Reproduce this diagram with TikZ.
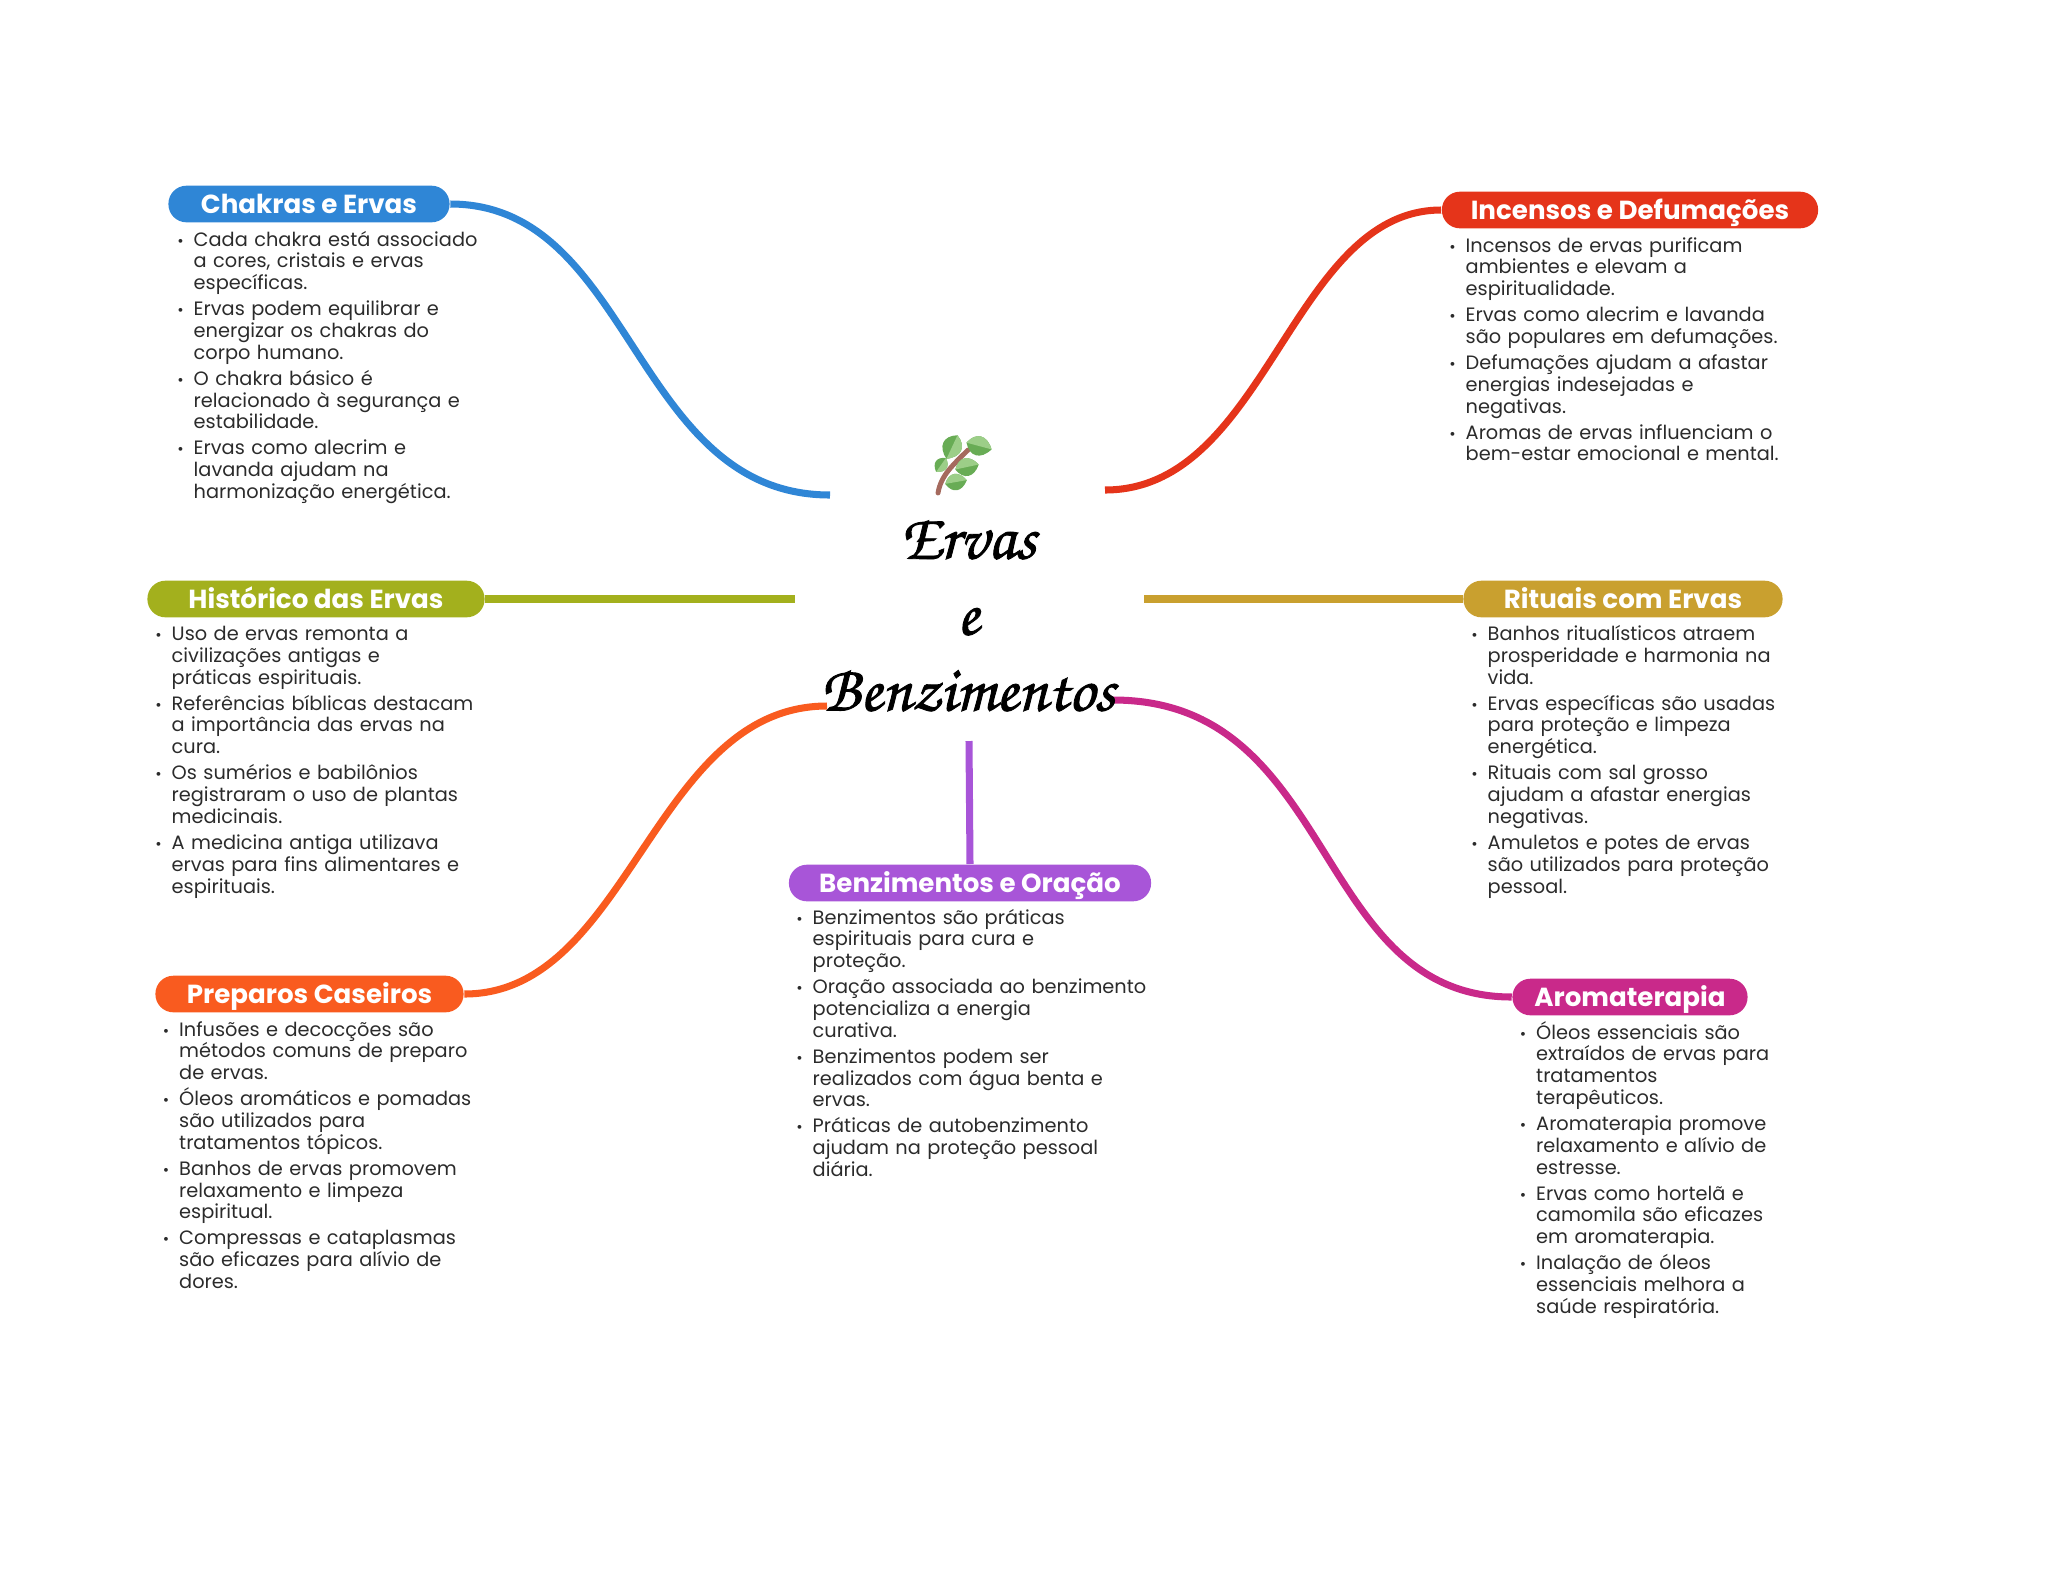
\documentclass[tikz,border=0pt]{standalone}
\usepackage{fontspec}
\setmainfont{Poppins}
\newfontfamily\hubfont[FakeBold=1.3]{TeX Gyre Chorus}
\usetikzlibrary{arrows.meta, positioning, calc}

\definecolor{chakrasblue}{HTML}{2F86D6}
\definecolor{incensosred}{HTML}{E5341A}
\definecolor{historicoolive}{HTML}{A3B01D}
\definecolor{rituaisgold}{HTML}{C9A02F}
\definecolor{preparosorange}{HTML}{F95B1F}
\definecolor{benzpurple}{HTML}{A855D8}
\definecolor{aromamagenta}{HTML}{C9298A}
\definecolor{notegray}{HTML}{2B2B2B}
\definecolor{leafdark}{HTML}{68AC55}
\definecolor{leaflight}{HTML}{9CCE88}
\definecolor{stembrown}{HTML}{A56A5E}

\newenvironment{notelist}{%
  \list{{\fontsize{4.4}{4.4}\selectfont\textbullet}}{%
    \setlength{\leftmargin}{0.15cm}\setlength{\labelwidth}{0.15cm}%
    \setlength{\labelsep}{0pt}\setlength{\itemindent}{0pt}%
    \setlength{\topsep}{0pt}\setlength{\partopsep}{0pt}%
    \setlength{\parsep}{0pt}\setlength{\itemsep}{1.2pt}%
    \renewcommand{\makelabel}[1]{\hskip-0.4pt##1\hfil}}%
}{\endlist}

\newcommand{\leaf}[3]{% position, angle, size
  \fill[leafdark, shift={#1}, rotate=#2, scale=#3]
    (-1,0) .. controls (-0.5,-1) and (0.4,-1) .. (1,0)
    .. controls (0.4,1) and (-0.5,1) .. cycle;
  \fill[leaflight, shift={#1}, rotate=#2, scale=#3]
    (-1,0) .. controls (-0.5,-1) and (0.4,-1) .. (1,0) -- cycle;
}

\tikzset{
  branch/.style={line width=2pt},
  pill/.style={rounded corners=0.18cm, minimum height=0.366cm, inner sep=0pt,
    text=white, text height=5.3pt, text depth=0pt, font=\fontsize{7.43}{8}\selectfont\bfseries},
  notes/.style={anchor=north west, inner sep=0pt, text width=4.2cm, text=notegray,
    font=\fontsize{5.5}{6.2}\selectfont\lineskiplimit-10pt},
}

\begin{document}
\begin{tikzpicture}[x=0.01cm, y=-0.01cm]
  \useasboundingbox (0,0) rectangle (2048,1569);
  % Free ends round the centre
  \coordinate (hubNW) at (830,495);
  \coordinate (hubNE) at (1105,490);
  \coordinate (hubW) at (795,599);
  \coordinate (hubE) at (1144,599);
  \coordinate (hubSW) at (827,706);
  \coordinate (hubSE) at (1113,700);
  \coordinate (hubS) at (969,741);
  % Titles
  \node[pill, fill=chakrasblue, minimum width=2.81cm] (chakras) at (309,204) {Chakras e Ervas};
  \node[pill, fill=incensosred, minimum width=3.76cm] (incensos) at (1630,210) {Incensos e Defumações};
  \node[pill, fill=historicoolive, minimum width=3.37cm] (historico) at (316,599) {Histórico das Ervas};
  \node[pill, fill=rituaisgold, minimum width=3.19cm] (rituais) at (1623,599) {Rituais com Ervas};
  \node[pill, fill=preparosorange, minimum width=3.08cm] (preparos) at (309.5,994) {Preparos Caseiros};
  \node[pill, fill=benzpurple, minimum width=3.62cm] (benzimentos) at (970,883) {Benzimentos e Oração};
  \node[pill, fill=aromamagenta, minimum width=2.35cm] (aroma) at (1630,997) {Aromaterapia};
  % Branches
  \draw[branch, chakrasblue] (chakras.east) .. controls +(183,0) and +(-197,0) .. (hubNW);
  \draw[branch, incensosred] (incensos.west) .. controls +(-150,0) and +(162,0) .. (hubNE);
  \draw[branch, historicoolive] (historico.east) -- (hubW);
  \draw[branch, rituaisgold] (rituais.west) -- (hubE);
  \draw[branch, preparosorange] (preparos.east) .. controls +(165,0) and +(-174,0) .. (hubSW);
  \draw[branch, aromamagenta] (aroma.west) .. controls +(-200,0) and +(225,0) .. (hubSE);
  \draw[branch, benzpurple] (benzimentos.north) -- (hubS);
  % Centre
  \node[inner sep=0pt, align=center, font=\fontsize{18.4}{21.6}\selectfont\hubfont\itshape] (hub) at (968,616)
    {Ervas\\e\\Benzimentos};
  % Sprig
  \draw[stembrown, line width=1.4pt, line cap=round] (938,493) .. controls (941,475) and (953,465) .. (968,450);
  \leaf{(952,447)}{-115}{13}
  \leaf{(979,446)}{-15}{13}
  \leaf{(941,465)}{-125}{8.5}
  \leaf{(967,467)}{12}{12}
  \leaf{(956,482)}{10}{11}
  % Notes
  \node[notes] (chakrasNotes) at (178,223.5) {\begin{notelist}
    \item Cada chakra está associado\\a cores, cristais e ervas\\específicas.
    \item Ervas podem equilibrar e\\energizar os chakras do\\corpo humano.
    \item O chakra básico é\\relacionado à segurança e\\estabilidade.
    \item Ervas como alecrim e\\lavanda ajudam na\\harmonização energética.
  \end{notelist}};
  \node[notes] (incensosNotes) at (1450,229.5) {\begin{notelist}
    \item Incensos de ervas purificam\\ambientes e elevam a\\espiritualidade.
    \item Ervas como alecrim e lavanda\\são populares em defumações.
    \item Defumações ajudam a afastar\\energias indesejadas e\\negativas.
    \item Aromas de ervas influenciam o\\bem-estar emocional e mental.
  \end{notelist}};
  \node[notes] (historicoNotes) at (156,618) {\begin{notelist}
    \item Uso de ervas remonta a\\civilizações antigas e\\práticas espirituais.
    \item Referências bíblicas destacam\\a importância das ervas na\\cura.
    \item Os sumérios e babilônios\\registraram o uso de plantas\\medicinais.
    \item A medicina antiga utilizava\\ervas para fins alimentares e\\espirituais.
  \end{notelist}};
  \node[notes] (rituaisNotes) at (1472,618) {\begin{notelist}
    \item Banhos ritualísticos atraem\\prosperidade e harmonia na\\vida.
    \item Ervas específicas são usadas\\para proteção e limpeza\\energética.
    \item Rituais com sal grosso\\ajudam a afastar energias\\negativas.
    \item Amuletos e potes de ervas\\são utilizados para proteção\\pessoal.
  \end{notelist}};
  \node[notes] (preparosNotes) at (163.5,1013.5) {\begin{notelist}
    \item Infusões e decocções são\\métodos comuns de preparo\\de ervas.
    \item Óleos aromáticos e pomadas\\são utilizados para\\tratamentos tópicos.
    \item Banhos de ervas promovem\\relaxamento e limpeza\\espiritual.
    \item Compressas e cataplasmas\\são eficazes para alívio de\\dores.
  \end{notelist}};
  \node[notes] (benzimentosNotes) at (797,901.5) {\begin{notelist}
    \item Benzimentos são práticas\\espirituais para cura e\\proteção.
    \item Oração associada ao benzimento\\potencializa a energia\\curativa.
    \item Benzimentos podem ser\\realizados com água benta e\\ervas.
    \item Práticas de autobenzimento\\ajudam na proteção pessoal\\diária.
  \end{notelist}};
  \node[notes] (aromaNotes) at (1520.5,1016.5) {\begin{notelist}
    \item Óleos essenciais são\\extraídos de ervas para\\tratamentos\\terapêuticos.
    \item Aromaterapia promove\\relaxamento e alívio de\\estresse.
    \item Ervas como hortelã e\\camomila são eficazes\\em aromaterapia.
    \item Inalação de óleos\\essenciais melhora a\\saúde respiratória.
  \end{notelist}};
\end{tikzpicture}
\end{document}
